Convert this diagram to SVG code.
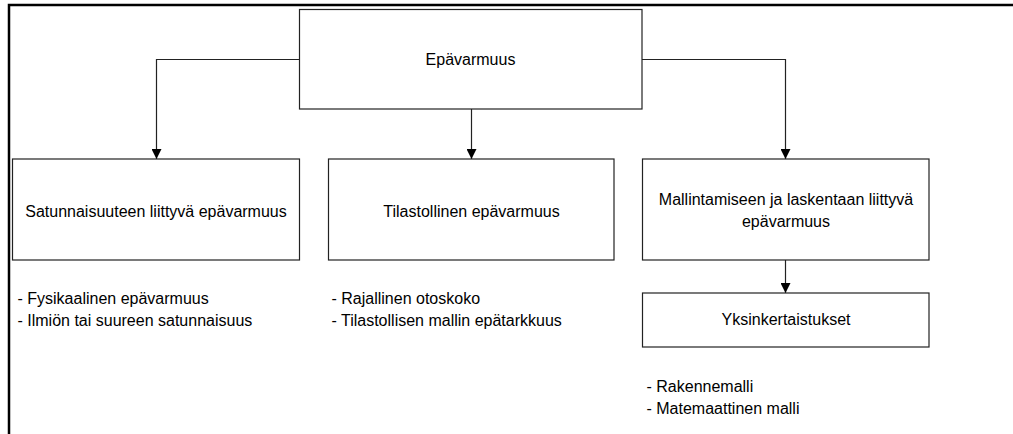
<svg xmlns="http://www.w3.org/2000/svg" width="1013" height="434" viewBox="0 0 1013 434">
  <style>
    .box { fill: #ffffff; stroke: #222222; stroke-width: 1.2; }
    .conn { fill: none; stroke: #222222; stroke-width: 1.2; }
    .frame { fill: none; stroke: #000000; stroke-width: 2.5; }
    .lbl { font-family: "Liberation Sans", Arial, sans-serif; font-size: 16px; fill: #000000; text-anchor: middle; }
    .note { font-family: "Liberation Sans", Arial, sans-serif; font-size: 16px; fill: #000000; }
  </style>
  <defs>
    <marker id="arrow" viewBox="0 0 10 10" refX="10" refY="5" markerWidth="10" markerHeight="10" markerUnits="userSpaceOnUse" orient="auto">
      <path d="M0,0 L10,5 L0,10 Z" fill="#000000"/>
    </marker>
  </defs>

  <!-- page frame -->
  <path class="frame" d="M9,434 V5 H1013"/>

  <!-- connectors -->
  <g id="connectors">
    <path class="conn" d="M299.5,59.5 H156.5 V159" marker-end="url(#arrow)"/>
    <path class="conn" d="M471.5,109 V159" marker-end="url(#arrow)"/>
    <path class="conn" d="M642,59.5 H785.5 V159" marker-end="url(#arrow)"/>
    <path class="conn" d="M785.5,260 V293" marker-end="url(#arrow)"/>
  </g>

  <g id="node-root">
    <rect class="box" x="299.5" y="9.5" width="342.5" height="99.5"/>
    <text class="lbl" x="470.5" y="65">Epävarmuus</text>
  </g>

  <g id="node-random">
    <rect class="box" x="12.5" y="159" width="287" height="101"/>
    <text class="lbl" x="156" y="216.5">Satunnaisuuteen liittyvä epävarmuus</text>
  </g>

  <g id="node-statistical">
    <rect class="box" x="328.5" y="159" width="285.5" height="101"/>
    <text class="lbl" x="471.5" y="216.5">Tilastollinen epävarmuus</text>
  </g>

  <g id="node-modelling">
    <rect class="box" x="642.5" y="159" width="286.5" height="101"/>
    <text class="lbl" x="786" y="205">Mallintamiseen ja laskentaan liittyvä</text>
    <text class="lbl" x="786" y="226.5">epävarmuus</text>
  </g>

  <g id="node-simplifications">
    <rect class="box" x="642.5" y="293" width="286.5" height="54"/>
    <text class="lbl" x="786" y="325">Yksinkertaistukset</text>
  </g>

  <!-- sub-item lists -->
  <g id="list-random">
    <text class="note" x="17.5" y="303.5">- Fysikaalinen epävarmuus</text>
    <text class="note" x="17.5" y="325.5">- Ilmiön tai suureen satunnaisuus</text>
  </g>
  <g id="list-statistical">
    <text class="note" x="331.5" y="303.5">- Rajallinen otoskoko</text>
    <text class="note" x="331.5" y="325.5">- Tilastollisen mallin epätarkkuus</text>
  </g>
  <g id="list-simplifications">
    <text class="note" x="646.5" y="391.5">- Rakennemalli</text>
    <text class="note" x="646.5" y="414">- Matemaattinen malli</text>
  </g>
</svg>
